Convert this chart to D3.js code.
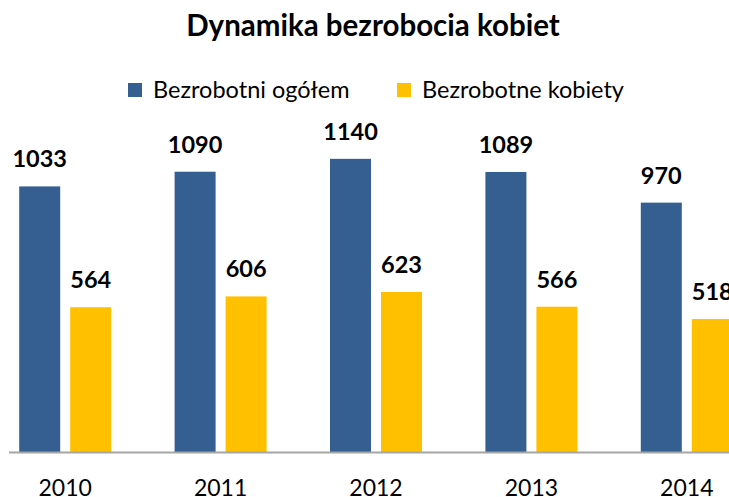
<!DOCTYPE html>
<html><head><meta charset="utf-8">
<script src="https://cdn.jsdelivr.net/npm/d3@7"></script>
<style>body{margin:0;background:#fff;} svg{display:block;font-family:Lato, "Open Sans", sans-serif;}</style>
</head><body>
<svg id="c" width="729" height="497"></svg>
<script>
const years = ["2010","2011","2012","2013","2014"];
const seriesNames = ["Bezrobotni ogółem","Bezrobotne kobiety"];
const ogolem = [1033,1090,1140,1089,970];
const kobiety = [564,606,623,566,518];
const colors = ["#365F91","#FFC000"];
const title = "Dynamika bezrobocia kobiet";

const svg = d3.select("#c");
const W = 729, H = 497;
const baseY = 452.5;

const x0 = d3.scaleBand().domain(years).range([-12.5, 764.5]).paddingInner(0.408).paddingOuter(0.204);
const x1 = d3.scaleBand().domain(seriesNames).range([0, x0.bandwidth()]).paddingInner(0.196);
const y = d3.scaleLinear().domain([0,1200]).range([baseY, baseY - 0.2576*1200]);

const data = years.map((yr,i)=>({year:yr, vals:[{s:seriesNames[0],v:ogolem[i],c:colors[0]},{s:seriesNames[1],v:kobiety[i],c:colors[1]}]}));

const g = svg.append("g");
const groups = g.selectAll("g.grp").data(data).join("g").attr("transform",d=>`translate(${x0(d.year)},0)`);
groups.selectAll("rect").data(d=>d.vals).join("rect")
  .attr("x",d=>x1(d.s)).attr("width",x1.bandwidth())
  .attr("y",d=>y(d.v)).attr("height",d=>baseY-y(d.v))
  .attr("fill",d=>d.c);
groups.selectAll("text.val").data(d=>d.vals).join("text").attr("class","val")
  .attr("x",d=>x1(d.s)+x1.bandwidth()/2).attr("y",d=>y(d.v)-19)
  .attr("text-anchor","middle").attr("font-weight","bold").attr("font-size",23.5)
  .attr("fill","#000").text(d=>d.v);

// axis
const axis = d3.axisBottom(x0).tickSize(0).tickPadding(27);
const ax = svg.append("g").attr("transform",`translate(0,${baseY})`).call(axis);
ax.select(".domain").remove();
ax.selectAll("text").attr("font-size",23).attr("fill","#000").attr("font-family","Lato, sans-serif");
svg.append("line").attr("x1",9).attr("x2",W).attr("y1",baseY).attr("y2",baseY).attr("stroke","#A6A6A6").attr("stroke-width",2);

// title
svg.append("text").attr("x",373).attr("y",36).attr("text-anchor","middle").attr("font-weight","bold").attr("font-size",29.5).attr("fill","#000").text(title);

// legend
const legX = [128,397];
const leg = svg.selectAll("g.leg").data(seriesNames).join("g").attr("transform",(d,i)=>`translate(${legX[i]},83)`);
leg.append("rect").attr("width",14).attr("height",14).attr("fill",(d,i)=>colors[i]);
leg.append("text").attr("x",25).attr("y",14.5).attr("font-size",23.5).attr("fill","#000").text(d=>d);
</script>
</body></html>
